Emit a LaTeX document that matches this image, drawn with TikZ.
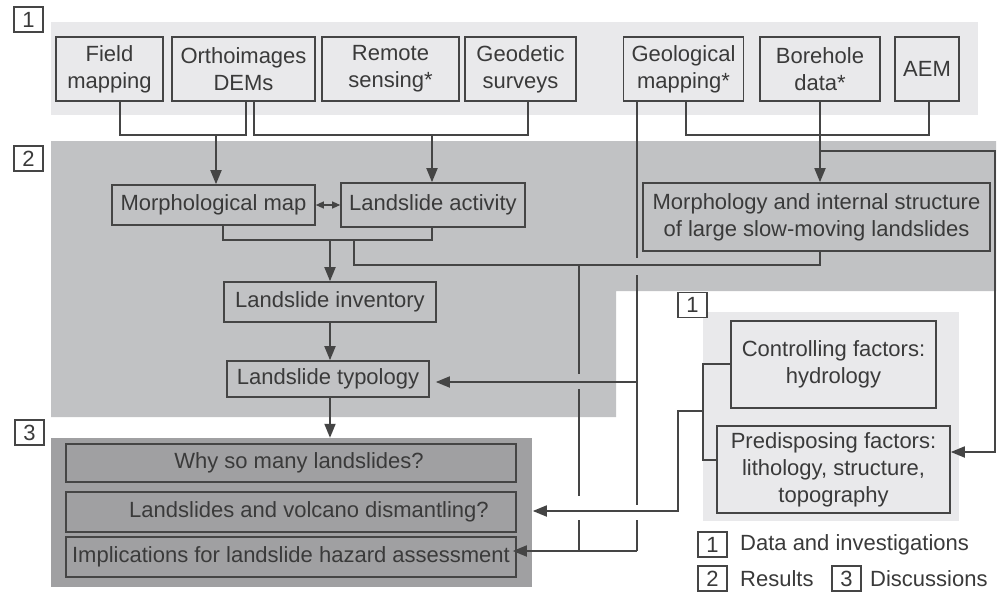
\documentclass[tikz,border=0pt]{standalone}
\usepackage{fontspec}
\setmainfont{Liberation Sans}
\usetikzlibrary{arrows.meta}
\definecolor{lc}{HTML}{454545}
\definecolor{tc}{HTML}{3A3A3A}
\definecolor{bgA}{HTML}{E9E9EB}
\definecolor{bgB}{HTML}{C1C2C4}
\definecolor{bgC}{HTML}{A0A0A2}
\begin{document}
\begin{tikzpicture}[x=1pt,y=-1pt,
  every node/.style={text=tc, font=\fontsize{22}{27}\selectfont},
  box/.style={draw=lc, line width=1.6pt, inner sep=0pt, align=center},
  boxA/.style={box, fill=bgA},
  boxB/.style={box, fill=bgB},
  boxC/.style={box, fill=bgC},
  conn/.style={draw=lc, line width=1.8pt},
  arr/.style={conn, -{Triangle[length=14pt,width=11pt]}},
  darr/.style={draw=lc, line width=1.2pt, {Triangle[length=8pt,width=7pt]}-{Triangle[length=8pt,width=7pt]}},
  numbox/.style={draw=lc, line width=1.4pt, minimum width=29pt, minimum height=25pt, inner sep=0pt, fill=white},
  legtext/.style={anchor=west, inner sep=0pt}
]
\useasboundingbox (0,0) rectangle (1005,595);
\fill[white] (0,0) rectangle (1005,595);
% backgrounds
\fill[bgA] (51,22) rectangle (978,115);
\fill[bgB] (51,141) -- (996,141) -- (996,291) -- (616,291) -- (616,417) -- (51,417) -- cycle;
\node[fill=bgC, minimum width=481pt, minimum height=149pt, inner sep=0pt] (r3) at (291.5,512.5) {};
\fill[bgA] (703,312) rectangle (959,521);

% section labels
\node[numbox] (lab1) at (28.5,19.5) {1};
\node[numbox] (lab2) at (28.5,158.5) {2};
\node[numbox] (lab3) at (29.5,432.5) {3};
\node[numbox] (lab1b) at (692.5,305) {1};

% row 1 boxes
\node[boxA, minimum width=107pt, minimum height=64pt] (field) at (109.5,69) {Field\\mapping};
\node[boxA, minimum width=143pt, minimum height=64pt] (ortho) at (243.5,69) {Orthoimages\\DEMs};
\node[boxA, minimum width=137pt, minimum height=64pt] (remote) at (390.5,69) {Remote\\sensing*};
\node[boxA, minimum width=111pt, minimum height=64pt] (geod) at (520.5,69) {Geodetic\\surveys};
\node[boxA, minimum width=120pt, minimum height=64pt] (geol) at (683.5,69) {Geological\\mapping*};
\node[boxA, minimum width=120pt, minimum height=64pt] (bore) at (820,69) {Borehole\\data*};
\node[boxA, minimum width=64pt, minimum height=64pt] (aem) at (927,69) {AEM};

% region 2 boxes
\node[boxB, minimum width=203pt, minimum height=40pt] (morph) at (213.5,205) {Morphological map};
\node[boxB, minimum width=184pt, minimum height=44pt] (act) at (433,205) {Landslide activity};
\node[boxB, minimum width=347pt, minimum height=68pt] (struct) at (816.5,217) {Morphology and internal structure\\of large slow-moving landslides};
\node[boxB, minimum width=212pt, minimum height=40pt] (inv) at (330,302) {Landslide inventory};
\node[boxB, minimum width=202pt, minimum height=36pt] (typ) at (328,379) {Landslide typology};

% region 3 boxes
\node[boxC, minimum width=450pt, minimum height=38pt] (why) at (291,463) {\hspace*{16pt}Why so many landslides?};
\node[boxC, minimum width=450pt, minimum height=40pt] (volc) at (291,512) {\hspace*{36pt}Landslides and volcano dismantling?};
\node[boxC, minimum width=450pt, minimum height=40pt] (impl) at (291,557) {Implications for landslide hazard assessment};

% right boxes
\node[boxA, minimum width=205pt, minimum height=87pt] (ctrl) at (833.5,364.5) {Controlling factors:\\hydrology};
\node[boxA, minimum width=233pt, minimum height=87pt] (pred) at (833.5,469.5) {Predisposing factors:\\lithology, structure,\\topography};

% legend
\node[numbox] (leg1) at (712.5,544.5) {1};
\node[legtext] (leg1t) at (740,544.5) {Data and investigations};
\node[numbox] (leg2) at (712.5,578.5) {2};
\node[legtext] (leg2t) at (740,578.5) {Results};
\node[numbox] (leg3) at (846.5,578.5) {3};
\node[legtext] (leg3t) at (870,578.5) {Discussions};

% junction coordinates
\coordinate (xf) at (120,135);
\coordinate (xo1) at (246,135);
\coordinate (m1) at (216,135);
\coordinate (xo2) at (254,135);
\coordinate (xg) at (528,135);
\coordinate (m2) at (432,135);
\coordinate (xgm) at (686,135);
\coordinate (xa) at (929,135);
\coordinate (b1) at (820,151);
\coordinate (r1) at (995,151);
\coordinate (r2) at (995,452);
\coordinate (h1) at (223,240);
\coordinate (h2) at (432,240);
\coordinate (m3) at (330,240);
\coordinate (k1) at (354,240);
\coordinate (k2) at (354,265);
\coordinate (k3) at (820,265);
\coordinate (v1) at (579,265);
\coordinate (v2) at (579,551);
\coordinate (g2) at (637,551);
\coordinate (t1) at (637,382);
\coordinate (p1) at (703,364);
\coordinate (p2) at (703,460);
\coordinate (q1) at (703,411);
\coordinate (q2) at (678,411);
\coordinate (q3) at (678,511);

% row 1 connectors
\draw[conn] (xf |- field.south) -- (xf) -- (xo1) -- (xo1 |- ortho.south);
\draw[arr] (m1) -- (m1 |- morph.north);
\draw[conn] (xo2 |- ortho.south) -- (xo2) -- (xg) -- (xg |- geod.south);
\draw[arr] (m2) -- (m2 |- act.north);
\draw[conn] (xgm |- geol.south) -- (xgm) -- (xa) -- (xa |- aem.south);
\draw[arr] (bore.south) -- (bore.south |- struct.north);
\draw[arr] (b1) -- (r1) -- (r2) -- (r2 -| pred.east);

% region 2 connectors
\draw[darr] (morph.east) -- (act.west);
\draw[conn] (h1 |- morph.south) -- (h1) -- (h2) -- (h2 |- act.south);
\draw[arr] (m3) -- (m3 |- inv.north);
\draw[conn] (k1) -- (k2) -- (k3) -- (k3 |- struct.south);
\draw[arr] (inv.south -| m3) -- (typ.north -| m3);
\draw[arr] (typ.south -| m3) -- (r3.north -| m3);

% long verticals with crossing gaps
\draw[conn] (v1) -- (579,374);
\draw[conn] (579,389) -- (579,496);
\draw[conn] (579,520) -- (v2);
\draw[conn] (637,101) -- (637,258);
\draw[conn] (637,275) -- (637,505);
\draw[conn] (637,520) -- (g2);
\draw[arr, shorten >=-4pt] (g2) -- (v2) -- (g2 -| impl.east);
\draw[arr, shorten >=6pt] (t1) -- (t1 -| typ.east);

% right connectors
\draw[conn] (p1 -| ctrl.west) -- (p1) -- (p2) -- (p2 -| pred.west);
\draw[arr, shorten >=16pt] (q1) -- (q2) -- (q3) -- (q3 -| volc.east);
\end{tikzpicture}
\end{document}
